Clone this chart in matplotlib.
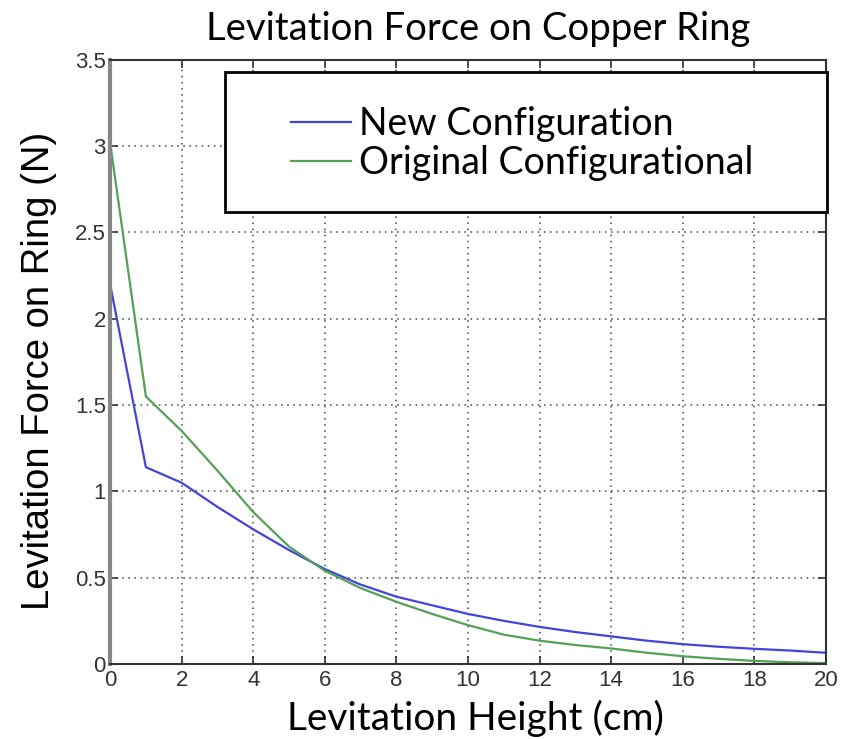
import numpy as np
import matplotlib
matplotlib.use('Agg')
import matplotlib.pyplot as plt
from matplotlib.patches import Rectangle

# levitation height (cm)
height = [0, 1, 2, 3, 4, 5, 6, 7, 8, 9, 10, 11, 12, 13, 14, 15, 16, 17, 18, 19, 20]
# levitation force (N)
force_new = [2.20, 1.14, 1.05, 0.91, 0.78, 0.66, 0.55, 0.46, 0.39, 0.34, 0.29,
             0.25, 0.215, 0.185, 0.16, 0.135, 0.115, 0.10, 0.088, 0.078, 0.065]
force_orig = [3.02, 1.55, 1.35, 1.12, 0.88, 0.68, 0.54, 0.44, 0.36, 0.29, 0.225,
              0.17, 0.135, 0.11, 0.09, 0.065, 0.045, 0.03, 0.018, 0.01, 0.005]
labels = ['New Configuration', 'Original Configurational']
xticks = [0, 2, 4, 6, 8, 10, 12, 14, 16, 18, 20]
yticks = [0, 0.5, 1, 1.5, 2, 2.5, 3, 3.5]

label_font = ['Lato', 'DejaVu Sans']
arial_font = ['Liberation Sans', 'DejaVu Sans']
narrow_font = ['Liberation Sans Narrow', 'Liberation Sans', 'DejaVu Sans']

fig = plt.figure(figsize=(8.47, 7.39), dpi=100)
ax = fig.add_axes([0.130, 0.1015, 0.845, 0.8175])

ax.plot(height, force_new, color='#4444dd', lw=1.6, label=labels[0])
ax.plot(height, force_orig, color='#55a055', lw=1.6, label=labels[1])

ax.set_xlim(0, 20)
ax.set_ylim(0, 3.5)
ax.set_xticks(xticks, ['{:g}'.format(v) for v in xticks],
              fontsize=16, family=narrow_font, color='#333333')
ax.set_yticks(yticks, ['{:g}'.format(v) for v in yticks],
              fontsize=16, family=narrow_font, color='#333333')
ax.grid(True, linestyle=(0, (1, 3)), color='#444444', lw=1.1)
ax.tick_params(direction='in', top=True, right=True, length=6, width=1.2,
               color='#333333')
ax.tick_params(axis='x', pad=4)
ax.tick_params(axis='y', pad=3)
for s in ax.spines.values():
    s.set_color('#333333')
    s.set_linewidth(1.5)
ax.spines['left'].set_color('#888888')
ax.spines['left'].set_linewidth(3)

ax.set_title('Levitation Force on Copper Ring', family=label_font, fontsize=27.5,
             x=0.514, pad=14)
ax.set_xlabel('Levitation Height (cm)', family=label_font, fontsize=28)
ax.xaxis.set_label_coords(0.51, -0.09, transform=ax.transAxes)
ax.xaxis.label.set_va('center')
ax.set_ylabel('Levitation Force on Ring (N)', family=arial_font, fontsize=27.5)
ax.yaxis.set_label_coords(-0.100, 0.485, transform=ax.transAxes)
ax.yaxis.label.set_va('center')

# legend box
ax.add_patch(Rectangle((0.161, 0.748), 0.84, 0.232, transform=ax.transAxes,
                       fill=True, facecolor='white', edgecolor='black', lw=2, zorder=5,
                       clip_on=False))
leg = ax.legend(loc='center left', bbox_to_anchor=(0.232, 0.862), frameon=False,
                prop={'family': label_font, 'size': 27}, handlelength=1.6,
                handletextpad=0.2, labelspacing=0.08, borderaxespad=0)
leg.set_zorder(6)

fig.savefig('out.png', dpi=100)
